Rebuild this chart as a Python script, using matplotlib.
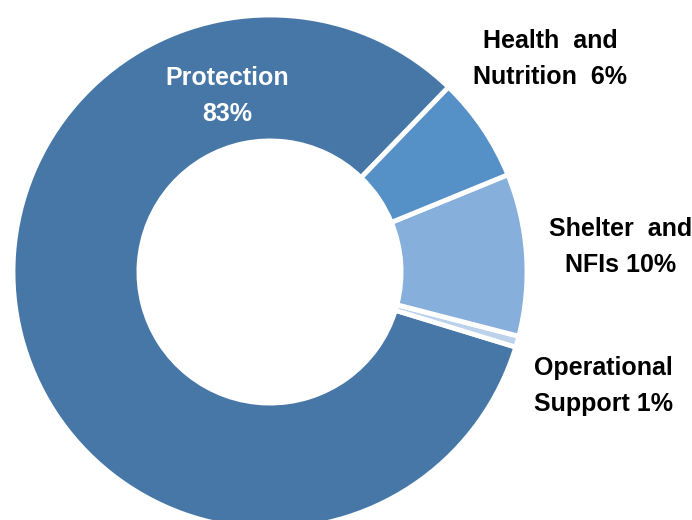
import matplotlib.pyplot as plt

sectors = ["Protection", "Operational Support", "Shelter and NFIs", "Health and Nutrition"]
shares = [82.5, 0.7, 10.2, 6.6]
shown_pct = [83, 1, 10, 6]
colors = ["#4677a7", "#bcd1ec", "#87afdb", "#5590c7"]

plt.rcParams['font.family'] = ['Liberation Sans', 'DejaVu Sans']

W, H = 692, 520
fig = plt.figure(figsize=(W / 100, H / 100), dpi=100)
fig.patch.set_facecolor("white")

# ring centre (270, 272) from the top-left, outer radius 257 px
cx, cy, r = 270, 272, 257
ax = fig.add_axes([(cx - r) / W, (H - cy - r) / H, 2 * r / W, 2 * r / H])

ax.pie(shares, colors=colors, startangle=46, counterclock=True, radius=1,
       wedgeprops=dict(width=0.49, edgecolor="white", linewidth=3.5))
ax.set_xlim(-1, 1)
ax.set_ylim(-1, 1)
ax.set_aspect("equal")
ax.axis("off")

fs = 18
ls = 1.6
fig.text(227 / W, 1 - 96 / H, f"{sectors[0]}\n{shown_pct[0]}%", color="white",
         fontsize=fs, fontweight="bold", ha="center", va="center", linespacing=ls)
fig.text(550 / W, 1 - 59 / H, f"Health  and\nNutrition  {shown_pct[3]}%", color="black",
         fontsize=fs, fontweight="bold", ha="center", va="center", linespacing=ls)
fig.text(621 / W, 1 - 247 / H, f"Shelter  and\nNFIs {shown_pct[2]}%", color="black",
         fontsize=fs, fontweight="bold", ha="center", va="center", linespacing=ls)
fig.text(603 / W, 1 - 386 / H, f"Operational\nSupport {shown_pct[1]}%", color="black",
         fontsize=fs, fontweight="bold", ha="center", va="center", linespacing=ls)

plt.savefig("out.png", dpi=100)
plt.close()
